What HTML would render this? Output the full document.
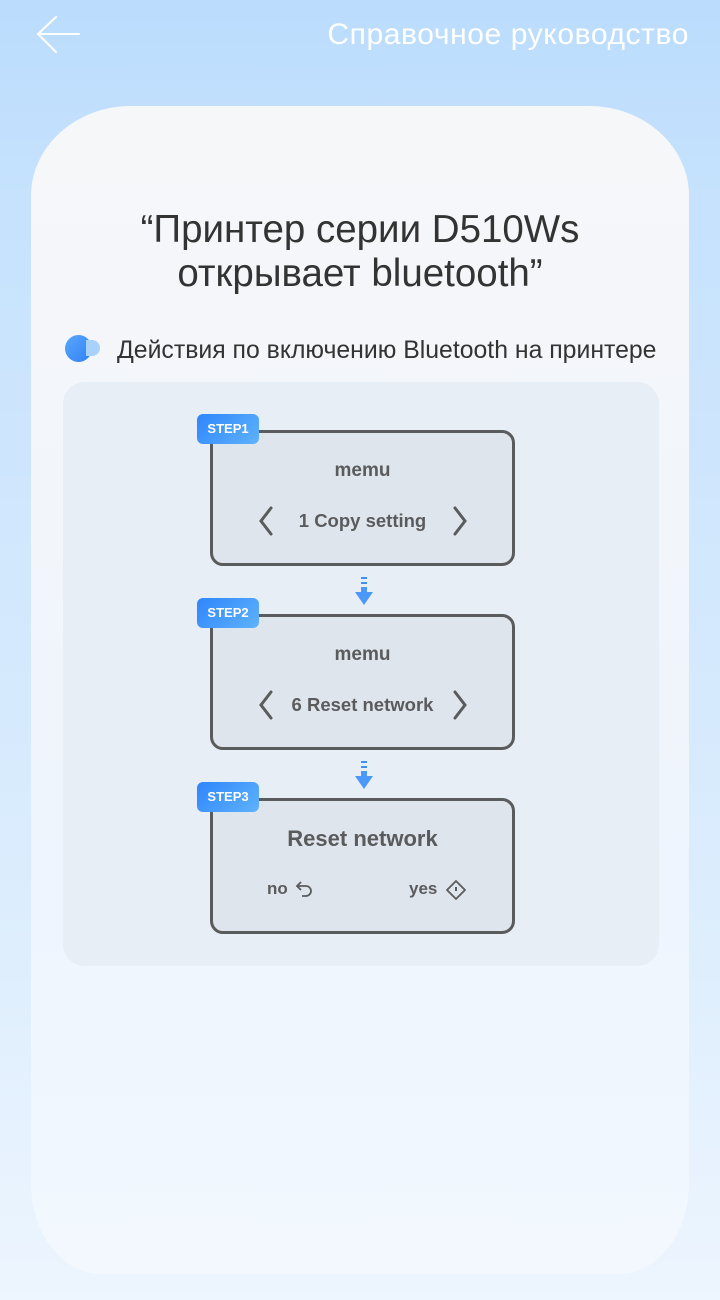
<!DOCTYPE html>
<html><head><meta charset="utf-8"><style>
*{margin:0;padding:0;box-sizing:border-box}
body{width:720px;height:1300px;position:relative;overflow:hidden;font-family:"Liberation Sans",sans-serif;background:linear-gradient(#bbdcfd 0px,#c6e2fd 200px,#dcedfd 900px,#edf5fe 1300px)}
.abs{position:absolute}
.card{left:31px;top:106px;width:658px;height:1168px;border-radius:100px 100px 70px 70px/90px 90px 90px 90px;background:linear-gradient(#f6f7f9,#f0f5fc 600px,#eef5fe 800px,#f2f8fe)}
.panel{left:63px;top:382px;width:596px;height:584px;border-radius:22px;background:#e7eef5}
.box{left:210px;width:305px;height:136px;border:3px solid #5a5b5d;border-radius:13px;background:#dfe5ec;color:#5a5b5d;font-weight:bold}
.badge{left:197px;width:62px;height:30px;border-radius:6px;background:linear-gradient(135deg,#2f86fb,#5eb2fb);color:#fff;font-size:13px;font-weight:bold;text-align:center;line-height:30px}
.t{position:absolute;left:0;right:0;text-align:center}
</style></head><body>
<svg class="abs" style="left:34px;top:14px" width="50" height="42"><path d="M45 20H4M22 3L4 20L22 38" fill="none" stroke="#fff" stroke-width="2" stroke-linecap="round"/></svg>
<div class="abs" style="right:31px;top:18px;color:#fff;font-size:30px;letter-spacing:0.6px">Справочное руководство</div>
<div class="abs card"></div>
<div class="abs" style="left:0;width:720px;top:208px;text-align:center;font-size:38.5px;line-height:44px;color:#333">“Принтер серии D510Ws<br>открывает bluetooth”</div>
<div class="abs" style="left:65px;top:335px;width:27px;height:27px;border-radius:50%;background:linear-gradient(135deg,#5aa8fb,#2f80f5)"></div>
<div class="abs" style="left:86px;top:340px;width:14px;height:16px;border-radius:0 8px 8px 0;background:#a9d2fb"></div>
<div class="abs" style="left:117px;top:337px;font-size:24.8px;color:#333">Действия по включению Bluetooth на принтере</div>
<div class="abs panel"></div>

<div class="abs box" style="top:430px"><div class="t" style="top:27px;font-size:19px">memu</div><div class="t" style="top:77px;font-size:18.5px">1 Copy setting</div>
<svg class="abs" style="left:44px;top:72px" width="20" height="32"><path d="M14 3L4 16L14 29" fill="none" stroke="#5a5b5d" stroke-width="3" stroke-linecap="round"/></svg>
<svg class="abs" style="left:237px;top:72px" width="20" height="32"><path d="M5 3L15 16L5 29" fill="none" stroke="#5a5b5d" stroke-width="3" stroke-linecap="round"/></svg></div>
<div class="abs badge" style="top:414px">STEP1</div>

<div class="abs box" style="top:614px"><div class="t" style="top:27px;font-size:19px">memu</div><div class="t" style="top:77px;font-size:18.5px">6 Reset network</div>
<svg class="abs" style="left:44px;top:72px" width="20" height="32"><path d="M14 3L4 16L14 29" fill="none" stroke="#5a5b5d" stroke-width="3" stroke-linecap="round"/></svg>
<svg class="abs" style="left:237px;top:72px" width="20" height="32"><path d="M5 3L15 16L5 29" fill="none" stroke="#5a5b5d" stroke-width="3" stroke-linecap="round"/></svg></div>
<div class="abs badge" style="top:598px">STEP2</div>

<div class="abs box" style="top:798px"><div class="t" style="top:25px;font-size:22px">Reset network</div>
<div class="abs" style="left:54px;top:78px;font-size:17px">no</div>
<svg class="abs" style="left:82px;top:79px" width="20" height="18"><path d="M6 2L2 6L6 10M2 6H11a5 5 0 0 1 0 10H7" fill="none" stroke="#5a5b5d" stroke-width="1.8"/></svg>
<div class="abs" style="left:196px;top:78px;font-size:17px">yes</div>
<svg class="abs" style="left:232px;top:78px" width="22" height="22"><path d="M11 2L20 11L11 20L2 11Z" fill="none" stroke="#5a5b5d" stroke-width="1.8" stroke-linejoin="round"/><path d="M11 8V12" stroke="#5a5b5d" stroke-width="2"/></svg></div>
<div class="abs badge" style="top:782px">STEP3</div>

<svg class="abs" style="left:353px;top:576px" width="22" height="32"><rect x="8" y="1" width="6" height="2" fill="#3d8ef8"/><rect x="8" y="6" width="6" height="2" fill="#3d8ef8"/><rect x="8" y="11" width="6" height="6" fill="#4c98f8"/><path d="M2 16H20L11 29Z" fill="#4c98f8"/></svg>
<svg class="abs" style="left:353px;top:760px" width="22" height="32"><rect x="8" y="1" width="6" height="2" fill="#3d8ef8"/><rect x="8" y="6" width="6" height="2" fill="#3d8ef8"/><rect x="8" y="11" width="6" height="6" fill="#4c98f8"/><path d="M2 16H20L11 29Z" fill="#4c98f8"/></svg>
</body></html>
